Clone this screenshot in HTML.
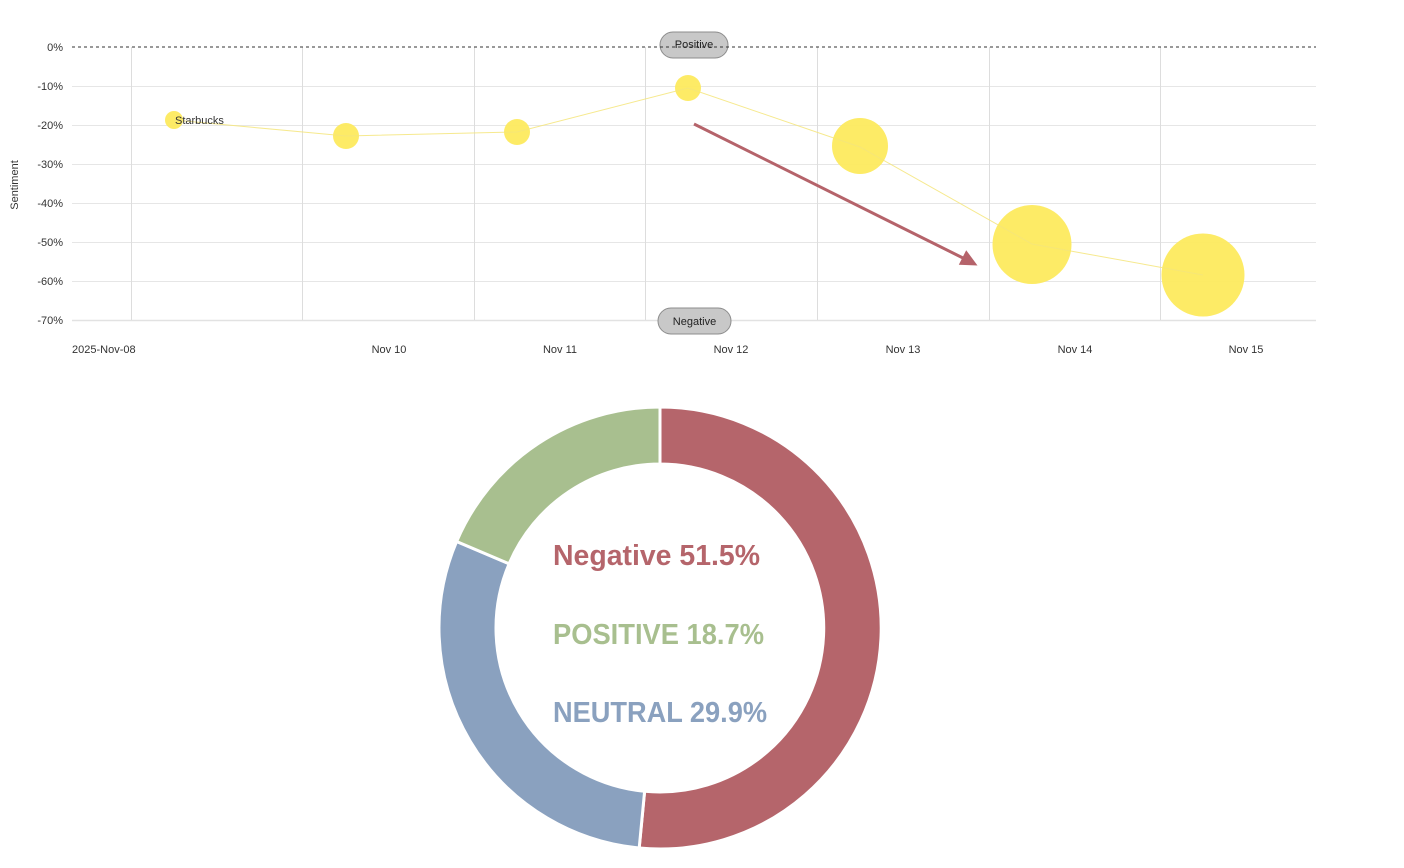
<!DOCTYPE html>
<html>
<head>
<meta charset="utf-8">
<style>
html,body{margin:0;padding:0;background:#fff;}
svg{display:block;}
text{font-family:"Liberation Sans",sans-serif;}
</style>
</head>
<body>
<svg width="1404" height="868" viewBox="0 0 1404 868" xmlns="http://www.w3.org/2000/svg">
  <rect width="1404" height="868" fill="#fff"/>
  <!-- horizontal gridlines -->
  <g stroke="#e6e6e6" stroke-width="1">
    <line x1="72" y1="86.5" x2="1316" y2="86.5"/>
    <line x1="72" y1="125.5" x2="1316" y2="125.5"/>
    <line x1="72" y1="164.5" x2="1316" y2="164.5"/>
    <line x1="72" y1="203.5" x2="1316" y2="203.5"/>
    <line x1="72" y1="242.5" x2="1316" y2="242.5"/>
    <line x1="72" y1="281.5" x2="1316" y2="281.5"/>
  </g>
  <line x1="72" y1="320.5" x2="1316" y2="320.5" stroke="#e2e2e2" stroke-width="1.5"/>
  <!-- vertical gridlines -->
  <g stroke="#dddddd" stroke-width="1">
    <line x1="131.5" y1="47" x2="131.5" y2="320"/>
    <line x1="302.5" y1="47" x2="302.5" y2="320"/>
    <line x1="474.5" y1="47" x2="474.5" y2="320"/>
    <line x1="645.5" y1="47" x2="645.5" y2="320"/>
    <line x1="817.5" y1="47" x2="817.5" y2="320"/>
    <line x1="989.5" y1="47" x2="989.5" y2="320"/>
    <line x1="1160.5" y1="47" x2="1160.5" y2="320"/>
  </g>
  <!-- y labels -->
  <g font-size="11" fill="#333" text-anchor="end">
    <text x="63" y="51">0%</text>
    <text x="63" y="90">-10%</text>
    <text x="63" y="129">-20%</text>
    <text x="63" y="168">-30%</text>
    <text x="63" y="207">-40%</text>
    <text x="63" y="246">-50%</text>
    <text x="63" y="285">-60%</text>
    <text x="63" y="324">-70%</text>
  </g>
  <text x="0" y="0" font-size="11" fill="#333" text-anchor="middle" transform="translate(18,185) rotate(-90)">Sentiment</text>
  <!-- x labels -->
  <g font-size="11" fill="#333" text-anchor="middle">
    <text x="72" y="353" text-anchor="start">2025-Nov-08</text>
    <text x="389" y="353">Nov 10</text>
    <text x="560" y="353">Nov 11</text>
    <text x="731" y="353">Nov 12</text>
    <text x="903" y="353">Nov 13</text>
    <text x="1075" y="353">Nov 14</text>
    <text x="1246" y="353">Nov 15</text>
  </g>
  <!-- bubbles -->
  <g fill="#fdea5e" fill-opacity="0.95">
    <circle cx="174" cy="120" r="9"/>
    <circle cx="346" cy="136" r="13"/>
    <circle cx="517" cy="132" r="13"/>
    <circle cx="688" cy="88" r="13"/>
    <circle cx="860" cy="146" r="28"/>
    <circle cx="1032" cy="244.5" r="39.5"/>
    <circle cx="1203" cy="275" r="41.5"/>
  </g>
  <!-- series line -->
  <polyline points="174,120 346,136 517,132 688,88 860,147 1032,244 1203,275" fill="none" stroke="#f5e57a" stroke-width="1" stroke-opacity="0.85"/>
  <text x="175" y="124" font-size="11" fill="#333">Starbucks</text>
  <!-- arrow -->
  <line x1="694" y1="124" x2="964" y2="258.5" stroke="#b5636a" stroke-width="3"/>
  <polygon points="977.5,265.5 958.8,264.8 966.2,250.2" fill="#b5636a"/>
  <!-- pills -->
  <rect x="660" y="32" width="68" height="26" rx="13" fill="#c8c8c8" stroke="#8c8c8c" stroke-width="1"/>
  <line x1="72" y1="47" x2="1316" y2="47" stroke="#333" stroke-width="1" stroke-dasharray="3,3"/>
  <text x="694" y="48" font-size="11" fill="#222" text-anchor="middle">Positive</text>
  <rect x="658" y="308" width="73" height="26" rx="13" fill="#c8c8c8" stroke="#8c8c8c" stroke-width="1"/>
  <text x="694.5" y="325" font-size="11" fill="#222" text-anchor="middle">Negative</text>
  <!-- donut -->
  <g stroke="#fff" stroke-width="3" stroke-linejoin="miter">
    <path d="M660,407 A221,221 0 1 1 639.2,848 L644.6,791.3 A164,164 0 1 0 660,464 Z" fill="#b5656b"/>
    <path d="M639.2,848 A221,221 0 0 1 456.6,541.5 L509.1,563.8 A164,164 0 0 0 644.6,791.3 Z" fill="#8aa1bf"/>
    <path d="M456.6,541.5 A221,221 0 0 1 660,407 L660,464 A164,164 0 0 0 509.1,563.8 Z" fill="#a8bf8f"/>
  </g>
  <g font-size="29" font-weight="bold">
    <text x="553" y="565" fill="#b5656b" textLength="207" lengthAdjust="spacingAndGlyphs">Negative 51.5%</text>
    <text x="553" y="644" fill="#a8bf8f" textLength="211" lengthAdjust="spacingAndGlyphs">POSITIVE 18.7%</text>
    <text x="553" y="722" fill="#8aa1bf" textLength="214" lengthAdjust="spacingAndGlyphs">NEUTRAL 29.9%</text>
  </g>
</svg>
</body>
</html>
